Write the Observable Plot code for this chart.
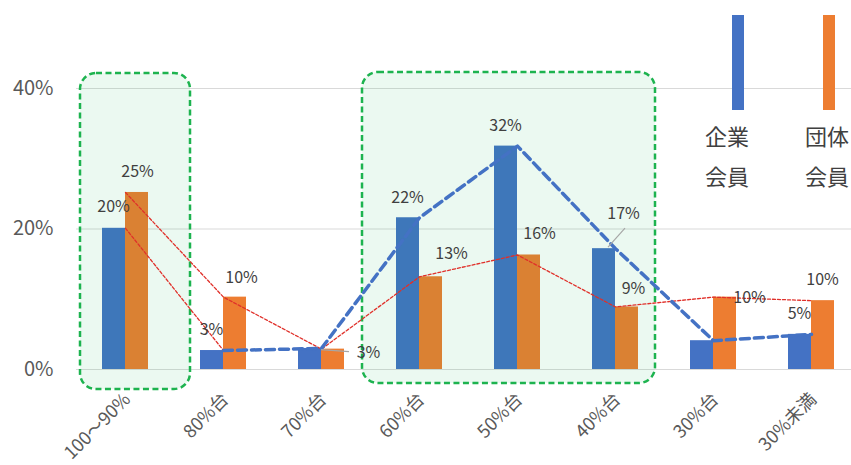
<!DOCTYPE html>
<html><head><meta charset="utf-8">
<script src="https://cdn.jsdelivr.net/npm/d3@7"></script>
<script src="https://cdn.jsdelivr.net/npm/@observablehq/plot@0.6"></script>
<style>
html,body{margin:0;padding:0;background:#fff;}
#chart{width:851px;height:465px;overflow:hidden;}
</style>
</head><body><div id="chart"></div>
<script>
// ---- data ----
const categories = ["100～90%", "80%台", "70%台", "60%台", "50%台", "40%台", "30%台", "30%未満"];
const seriesNames = [["企業", "会員"], ["団体", "会員"]];
const seriesColors = ["#4472C4", "#ED7D31"];
const corporate = [20.1, 2.7, 3.0, 21.6, 31.8, 17.2, 4.1, 5.0];   // 企業会員
const groupMem  = [25.2, 10.3, 2.9, 13.2, 16.3, 8.9, 10.3, 9.8];  // 団体会員
const yTicks = [0, 20, 40];
const highlights = [["100～90%", "100～90%"], ["60%台", "40%台"]];
// data labels: series index, category index, pixel offsets from (band centre, value)
const labelSpecs = [
  {s: 0, i: 0, dx: -12, dy: -21}, {s: 1, i: 0, dx: 12, dy: -21},
  {s: 0, i: 1, dx: -12, dy: -21}, {s: 1, i: 1, dx: 18, dy: -19},
  {s: 1, i: 2, dx: 47, dy: 4, leader: [0, 1, 28, 3]},
  {s: 0, i: 3, dx: -12, dy: -20}, {s: 1, i: 3, dx: 32, dy: -23},
  {s: 0, i: 4, dx: -12, dy: -20}, {s: 1, i: 4, dx: 22, dy: -21},
  {s: 0, i: 5, dx: 8, dy: -35, leader: [-7, -1, 10, -20]}, {s: 1, i: 5, dx: 18, dy: -18},
  {s: 1, i: 6, dx: 36, dy: 1},
  {s: 0, i: 7, dx: -12, dy: -21}, {s: 1, i: 7, dx: 11, dy: -21}
];

// ---- tables ----
const series = [corporate, groupMem];
const corpRows = categories.map((c, i) => ({cat: c, value: corporate[i]}));
const groupRows = categories.map((c, i) => ({cat: c, value: groupMem[i]}));
const labelRows = labelSpecs.map(d => ({...d, cat: categories[d.i], value: series[d.s][d.i],
  text: Math.round(series[d.s][d.i]) + "%"}));

const FONT = "'Noto Sans CJK JP', 'Noto Sans', sans-serif";
const W = 851, H = 465;

function bandCenter(scales, c) {
  const x = scales.x;
  return x(c) + (x.bandwidth ? x.bandwidth() / 2 : 0);
}

// highlight boxes (semi-transparent overlay)
function boxesMark(index, scales) {
  const g = d3.create("svg:g");
  const x = scales.x, y = scales.y, bw = x.bandwidth();
  const pads = [[4, 16], [-8, -9]];
  highlights.forEach(([a, b], k) => {
    const x1 = x(a) + pads[k][0], x2 = x(b) + bw + pads[k][1];
    const y1 = y(40) - (k === 0 ? 15 : 16), y2 = y(0) + (k === 0 ? 20 : 14);
    g.append("rect").attr("x", x1).attr("y", y1).attr("width", x2 - x1).attr("height", y2 - y1)
      .attr("rx", 16).attr("ry", 16)
      .attr("fill", "rgba(0,176,80,0.08)").attr("stroke", "#1DB34F")
      .attr("stroke-width", 2.5).attr("stroke-dasharray", "6,3.5");
  });
  return g.node();
}

function leadersMark(index, scales) {
  const g = d3.create("svg:g");
  labelRows.filter(d => d.leader).forEach(d => {
    const cx = bandCenter(scales, d.cat), cy = scales.y(d.value);
    g.append("line").attr("x1", cx + d.leader[0]).attr("y1", cy + d.leader[1])
      .attr("x2", cx + d.leader[2]).attr("y2", cy + d.leader[3])
      .attr("stroke", "#A6A6A6").attr("stroke-width", 1.2);
  });
  return g.node();
}

function legendMark(index, scales, values, dims) {
  const g = d3.create("svg:g").attr("font-family", FONT);
  const centers = [dims.width - 113, dims.width - 22];
  seriesNames.forEach((lines, k) => {
    g.append("rect").attr("x", centers[k] - 6).attr("y", 15)
      .attr("width", 12).attr("height", 95).attr("fill", seriesColors[k]);
    lines.forEach((t, j) => {
      g.append("text").attr("x", centers[k] - (k === 0 ? 11 : 2)).attr("y", 137 + j * 40)
        .attr("dy", "0.35em").attr("text-anchor", "middle")
        .attr("font-size", 22).attr("fill", "#404040").text(t);
    });
  });
  return g.node();
}

const chart = Plot.plot({
  width: W, height: H,
  marginLeft: 76, marginRight: 0, marginTop: 88, marginBottom: 96,
  style: {fontFamily: FONT, background: "#fff", overflow: "visible"},
  x: {type: "band", domain: categories, range: [76, 860], padding: 0},
  y: {domain: [0, 40]},
  marks: [
    Plot.ruleY(yTicks, {stroke: "#D9D9D9", strokeWidth: 1.2}),
    Plot.axisY({ticks: yTicks, tickFormat: d => d + "%", tickSize: 0, tickPadding: 23,
      fontSize: 20, color: "#595959", label: null}),
    Plot.axisX({tickRotate: -45, tickSize: 0, tickPadding: 27, fontSize: 18, dx: 2,
      color: "#595959", label: null}),
    Plot.barY(corpRows, {x: "cat", y: "value", fill: seriesColors[0], insetLeft: 26, insetRight: 49}),
    Plot.barY(groupRows, {x: "cat", y: "value", fill: seriesColors[1], insetLeft: 49, insetRight: 26}),
    boxesMark,
    Plot.line(groupRows, {x: "cat", y: "value", stroke: "#E0302A", strokeWidth: 1.3, strokeDasharray: "3,2"}),
    Plot.line(corpRows.slice(0, 2), {x: "cat", y: "value", stroke: "#E0302A", strokeWidth: 1.3, strokeDasharray: "3,2"}),
    Plot.line(corpRows.slice(1), {x: "cat", y: "value", stroke: seriesColors[0], strokeWidth: 3.5, strokeDasharray: "9,5"}),
    leadersMark,
    ...labelRows.map(d => Plot.text([d], {x: "cat", y: "value", text: "text", dx: d.dx, dy: d.dy,
      fontSize: 16, fill: "#404040"})),
    legendMark
  ]
});
document.getElementById("chart").append(chart);
</script>
</body></html>
